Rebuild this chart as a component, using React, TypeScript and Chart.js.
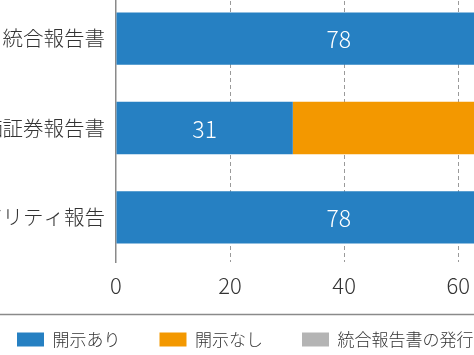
import React, { useEffect, useRef } from "react";
import { Chart, registerables } from "chart.js";

Chart.register(...registerables);

const categories = ["統合報告書", "有価証券報告書", "サステナビリティ報告"];
const disclosedValues = [78, 31, 78];
const notDisclosedValues = [0, 69, 0];
const noIntegratedReportValues = [22, 0, 22];
const seriesNames = ["開示あり", "開示なし", "統合報告書の発行なし"];
const xTicks = [0, 20, 40, 60, 80, 100];

const FONT = "'Noto Sans CJK JP', 'Noto Sans', sans-serif";

const valueLabelPlugin = {
  id: "valueLabels",
  afterDatasetsDraw(chart: any) {
    const ctx = chart.ctx;
    ctx.save();
    ctx.fillStyle = "#ffffff";
    ctx.font = `300 23px ${FONT}`;
    ctx.textAlign = "center";
    ctx.textBaseline = "middle";
    chart.data.datasets.forEach((ds: any, di: number) => {
      if (di > 1) return;
      const meta = chart.getDatasetMeta(di);
      meta.data.forEach((bar: any, i: number) => {
        const v = ds.data[i];
        if (!v) return;
        const c = bar.getCenterPoint();
        ctx.fillText(String(v), c.x, c.y + 1);
      });
    });
    ctx.restore();
  },
};

// let the x tick labels overflow the fixed-height axis box instead of being clipped
const unclipXLabels = {
  id: "unclipXLabels",
  afterLayout(chart: any) {
    const x = chart.scales.x;
    if (x) x.bottom = x.top + 50;
  },
};

const separatorPlugin = {
  id: "separator",
  afterDraw(chart: any) {
    const legend = chart.legend;
    if (!legend) return;
    const ctx = chart.ctx;
    const y = Math.round(legend.top + 22) + 0.5;
    ctx.save();
    ctx.strokeStyle = "#8a8a8a";
    ctx.lineWidth = 1.5;
    ctx.beginPath();
    ctx.moveTo(0, y);
    ctx.lineTo(chart.width, y);
    ctx.stroke();
    ctx.restore();
  },
};

export default function App() {
  const canvasRef = useRef<HTMLCanvasElement | null>(null);

  useEffect(() => {
    if (!canvasRef.current) return;
    const chart = new Chart(canvasRef.current, {
      type: "bar",
      data: {
        labels: categories,
        datasets: [
          {
            label: seriesNames[0],
            data: disclosedValues,
            backgroundColor: "#2680c2",
          },
          {
            label: seriesNames[1],
            data: notDisclosedValues,
            backgroundColor: "#f39800",
          },
          {
            label: seriesNames[2],
            data: noIntegratedReportValues,
            backgroundColor: "#b4b4b4",
          },
        ],
      },
      options: {
        indexAxis: "y",
        animation: false,
        responsive: true,
        maintainAspectRatio: false,
        layout: { padding: 0 },
        datasets: {
          bar: { barPercentage: 0.585, categoryPercentage: 1 },
        },
        scales: {
          x: {
            stacked: true,
            min: 0,
            max: 100,
            afterBuildTicks(scale: any) {
              scale.ticks = xTicks.map((v) => ({ value: v }));
            },
            afterFit(scale: any) {
              scale.height = 30;
            },
            grid: {
              drawTicks: false,
              color: (ctx: any) =>
                ctx.tick && ctx.tick.value === 0 ? "rgba(0,0,0,0)" : "#9a9a9a",
              lineWidth: 1,
            },
            border: { display: false, dash: [4, 3] },
            ticks: {
              padding: 10,
              color: "#333333",
              font: { family: FONT, size: 22, weight: 300 },
            },
          },
          y: {
            stacked: true,
            afterFit(scale: any) {
              scale.width = 138;
              scale.paddingTop = 0;
              scale.paddingBottom = 0;
            },
            grid: { display: false, drawTicks: false },
            border: { display: true, color: "#8a8a8a", width: 1.5 },
            ticks: {
              padding: 11,
              color: "#333333",
              font: { family: FONT, size: 20.5, weight: 300 },
            },
          },
        },
        plugins: {
          legend: {
            position: "bottom",
            align: "start",
            labels: {
              boxWidth: 27,
              boxHeight: 14,
              padding: 39,
              color: "#333333",
              font: { family: FONT, size: 17, weight: 300 },
            },
          },
          tooltip: { enabled: false },
        },
      },
      plugins: [valueLabelPlugin, unclipXLabels, separatorPlugin],
    } as any);
    return () => chart.destroy();
  }, []);

  return (
    <div
      style={{
        position: "fixed",
        left: -22,
        top: -6,
        width: 736,
        height: 364,
        background: "#ffffff",
      }}
    >
      <canvas ref={canvasRef} />
    </div>
  );
}
